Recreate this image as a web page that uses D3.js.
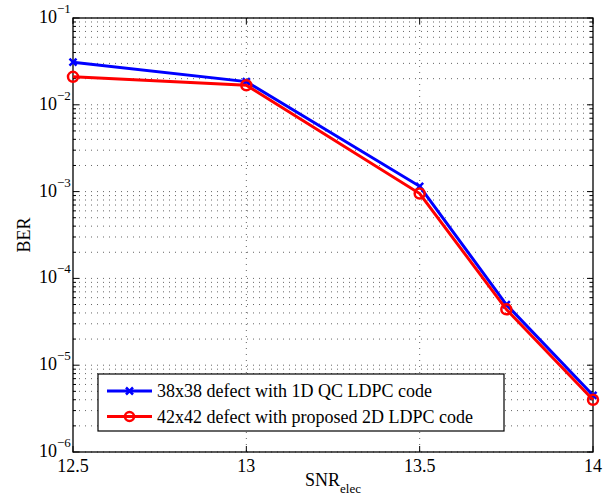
<!DOCTYPE html>
<html><head><meta charset="utf-8">
<script src="https://cdn.jsdelivr.net/npm/d3@7"></script>
<style>body{margin:0;background:#fff}svg{display:block}</style>
</head><body><svg id="c" width="607" height="495" font-family="'Liberation Serif', 'Times New Roman', Times, serif"></svg>
<script>
const snr = [12.5, 13, 13.5, 13.75, 14];
const ber1D = [3.1e-2, 1.85e-2, 1.15e-3, 5.0e-5, 4.5e-6];
const ber2D = [2.1e-2, 1.68e-2, 9.5e-4, 4.4e-5, 4.0e-6];
const seriesNames = ["38x38 defect with 1D QC LDPC code", "42x42 defect with proposed 2D LDPC code"];
const xTicks = [12.5, 13, 13.5, 14];
const xTickLabels = ["12.5", "13", "13.5", "14"];
const yExps = [-1, -2, -3, -4, -5, -6];
const FF = "Liberation Serif";

const svg = d3.select("#c");
const L = 73, R = 593, T = 18, B = 452;
const x = d3.scaleLinear().domain([12.5, 14]).range([L, R]);
const y = d3.scaleLog().domain([1e-6, 1e-1]).range([B, T]);

// grid
const g = svg.append("g");
const minor = [];
for (let e = -6; e < -1; e++) for (let m = 1; m < 10; m++) minor.push(m * Math.pow(10, e));
minor.push(1e-1);
minor.forEach(v => {
  g.append("line").attr("x1", L).attr("x2", R).attr("y1", y(v)).attr("y2", y(v))
    .attr("stroke", "#666").attr("stroke-width", 1).attr("stroke-dasharray", "1,5");
});
xTicks.slice(1, -1).forEach(v => {
  g.append("line").attr("x1", x(v)).attr("x2", x(v)).attr("y1", T).attr("y2", B)
    .attr("stroke", "#666").attr("stroke-width", 1).attr("stroke-dasharray", "1,5");
});

// ticks inside
minor.forEach(v => {
  const major = yExps.some(e => Math.abs(Math.log10(v) - e) < 1e-9);
  const len = major ? 6 : 3;
  svg.append("line").attr("x1", L).attr("x2", L + len).attr("y1", y(v)).attr("y2", y(v)).attr("stroke", "#000");
  svg.append("line").attr("x1", R).attr("x2", R - len).attr("y1", y(v)).attr("y2", y(v)).attr("stroke", "#000");
});
xTicks.forEach(v => {
  svg.append("line").attr("x1", x(v)).attr("x2", x(v)).attr("y1", B).attr("y2", B - 6).attr("stroke", "#000");
  svg.append("line").attr("x1", x(v)).attr("x2", x(v)).attr("y1", T).attr("y2", T + 6).attr("stroke", "#000");
});

// frame
svg.append("rect").attr("x", L).attr("y", T).attr("width", R - L).attr("height", B - T)
  .attr("fill", "none").attr("stroke", "#000").attr("stroke-width", 1.3);

// tick labels
xTicks.forEach((v, i) => {
  svg.append("text").attr("x", x(v)).attr("y", B + 20).attr("text-anchor", "middle")
    .attr("font-family", FF).attr("font-size", 18).text(xTickLabels[i]);
});
yExps.forEach(e => {
  const t = svg.append("text").attr("x", L - 34).attr("y", y(Math.pow(10, e)) + 5)
    .attr("font-family", FF).attr("font-size", 18);
  t.append("tspan").text("10");
  t.append("tspan").attr("dy", -10).attr("font-size", 13).text("\u2212" + (-e));
});

// axis labels
const xl = svg.append("text").attr("x", 333).attr("y", 486).attr("text-anchor", "middle")
  .attr("font-family", FF).attr("font-size", 18);
xl.append("tspan").text("SNR");
xl.append("tspan").attr("dy", 7).attr("font-size", 13).text("elec");
svg.append("text").attr("transform", "translate(30,235) rotate(-90)").attr("text-anchor", "middle")
  .attr("font-family", FF).attr("font-size", 18).text("BER");

// lines
const line = d3.line().x(d => x(d[0])).y(d => y(d[1]));
const d1 = snr.map((s, i) => [s, ber1D[i]]);
const d2 = snr.map((s, i) => [s, ber2D[i]]);

function xMarker(sel, cx, cy, col) {
  const s = 3.5;
  sel.append("path").attr("d", `M${cx - s},${cy - s}L${cx + s},${cy + s}M${cx - s},${cy + s}L${cx + s},${cy - s}`)
    .attr("stroke", col).attr("stroke-width", 2.5);
}
svg.append("path").datum(d1).attr("d", line).attr("fill", "none").attr("stroke", "#0000ff").attr("stroke-width", 3);
d1.forEach(d => xMarker(svg, x(d[0]), y(d[1]), "#0000ff"));
svg.append("path").datum(d2).attr("d", line).attr("fill", "none").attr("stroke", "#ff0000").attr("stroke-width", 3);
d2.forEach(d => svg.append("circle").attr("cx", x(d[0])).attr("cy", y(d[1])).attr("r", 5)
  .attr("fill", "none").attr("stroke", "#ff0000").attr("stroke-width", 2.5));

// legend
const lg = svg.append("g");
lg.append("rect").attr("x", 98).attr("y", 374).attr("width", 406).attr("height", 57)
  .attr("fill", "#fff").attr("stroke", "#000").attr("stroke-width", 1.2);
[[391, "#0000ff", 0], [416.5, "#ff0000", 1]].forEach(([yy, col, i]) => {
  lg.append("line").attr("x1", 107).attr("x2", 152).attr("y1", yy).attr("y2", yy).attr("stroke", col).attr("stroke-width", 3);
  if (i === 0) xMarker(lg, 129.5, yy, col);
  else lg.append("circle").attr("cx", 129.5).attr("cy", yy).attr("r", 4.5).attr("fill", "none").attr("stroke", col).attr("stroke-width", 2.5);
  lg.append("text").attr("x", 157).attr("y", yy + 6).attr("font-family", FF).attr("font-size", 18).text(seriesNames[i]);
});
</script></body></html>
